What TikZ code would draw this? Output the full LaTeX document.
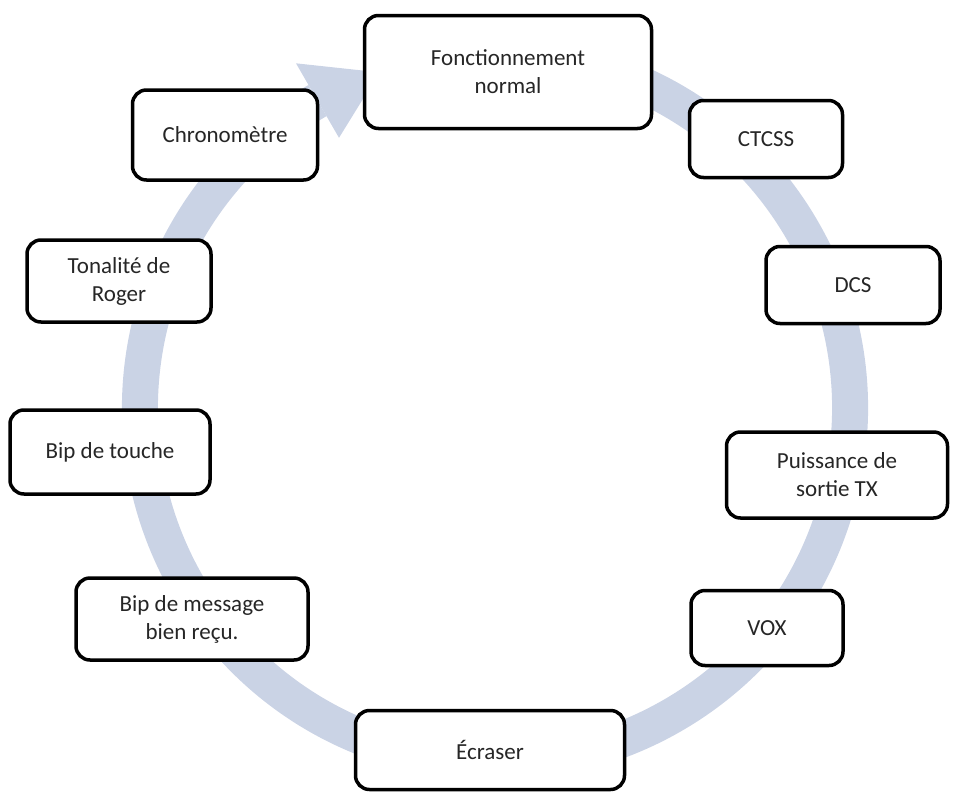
\documentclass[tikz,border=0pt]{standalone}
\usepackage{fontspec}
\setmainfont{Carlito}
\usetikzlibrary{calc}
\begin{document}
\begin{tikzpicture}[x=1pt,y=-1pt,
  box/.style={draw=black,line width=3.5pt,rounded corners=14pt,fill=white,align=center,
    font=\fontsize{23}{28}\selectfont,text=black!85,inner sep=0pt}]
\definecolor{band}{HTML}{CAD3E5}
\useasboundingbox (0,0) rectangle (956,798);
\coordinate (c) at (495,408);
\draw[band,line width=36pt] ($(c)+(-75:355)$) arc (-75:240:355);
\fill[band] ($(c)+(240:312)$) -- ($(c)+(240:398)$) -- ($(c)+(251:355)$) -- cycle;
\node[box,minimum width=287pt,minimum height=113pt] (fn) at (508,72) {Fonctionnement\\normal};
\node[box,minimum width=153pt,minimum height=77pt] (ct) at (766,139) {CTCSS};
\node[box,minimum width=174pt,minimum height=77pt] (dcs) at (853,285) {DCS};
\node[box,minimum width=221pt,minimum height=86pt] (pw) at (837,475) {Puissance de\\sortie TX};
\node[box,minimum width=152pt,minimum height=75pt] (vox) at (767,628) {VOX};
\node[box,minimum width=269pt,minimum height=79pt] (ec) at (490,750) {Écraser};
\node[box,minimum width=232pt,minimum height=82pt] (bm) at (192,619) {Bip de message\\bien reçu.};
\node[box,minimum width=200pt,minimum height=84pt] (bt) at (110,452) {Bip de touche};
\node[box,minimum width=184pt,minimum height=82pt] (tr) at (119,281) {Tonalité de\\Roger};
\node[box,minimum width=185pt,minimum height=90pt] (ch) at (225,135) {Chronomètre};
\end{tikzpicture}
\end{document}
